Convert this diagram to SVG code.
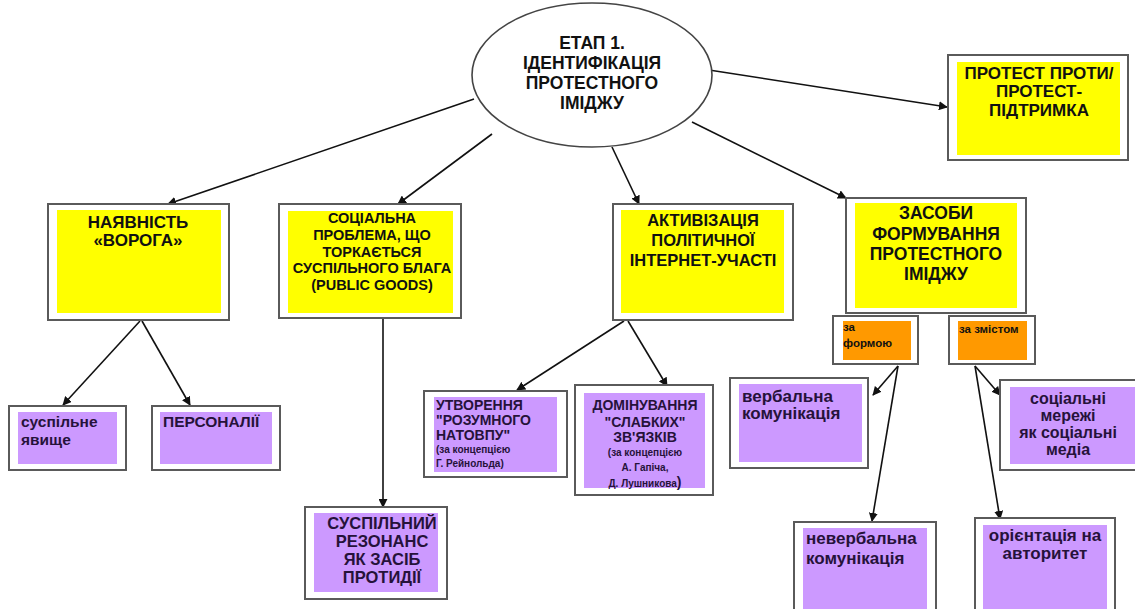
<svg xmlns="http://www.w3.org/2000/svg" width="1135" height="609" viewBox="0 0 1135 609">
<defs>
<marker id="ah" viewBox="0 0 10 10" refX="9" refY="5" markerWidth="9" markerHeight="9" orient="auto" markerUnits="userSpaceOnUse">
<path d="M0,0 L10,5 L0,10 z" fill="#111"/>
</marker>
</defs>
<style>
.frame{fill:#fff;stroke:#5a5a5a;stroke-width:2}
.yel{fill:#ffff00}
.pur{fill:#cc99ff}
.ora{fill:#ff9900}
.t{font-family:"Liberation Sans",Arial,sans-serif;font-weight:bold;fill:#111}
.tp{font-family:"Liberation Sans",Arial,sans-serif;font-weight:bold;fill:#26123a}
.c{text-anchor:middle}
.ln{stroke:#111;stroke-width:1.6;fill:none;marker-end:url(#ah)}
</style>
<rect width="1135" height="609" fill="#fff"/>
<g id="connectors">
<line class="ln" x1="709" y1="70" x2="947" y2="107"/>
<line class="ln" x1="474" y1="99" x2="168" y2="204"/>
<line class="ln" x1="492" y1="134" x2="398" y2="204"/>
<line class="ln" x1="612" y1="147" x2="639" y2="204"/>
<line class="ln" x1="692" y1="122" x2="846" y2="198"/>
<line class="ln" x1="140" y1="321" x2="63" y2="405"/>
<line class="ln" x1="142" y1="321" x2="190" y2="405"/>
<line class="ln" x1="383" y1="318" x2="383" y2="507"/>
<line class="ln" x1="624" y1="321" x2="517" y2="390"/>
<line class="ln" x1="628" y1="321" x2="667" y2="386"/>
<line class="ln" x1="898" y1="366" x2="873" y2="395"/>
<line class="ln" x1="898" y1="366" x2="872" y2="521"/>
<line class="ln" x1="975" y1="366" x2="1000" y2="395"/>
<line class="ln" x1="975" y1="366" x2="1000" y2="519"/>
</g>
<g id="stage1">
<ellipse cx="592" cy="75" rx="120" ry="72" fill="#fff" stroke="#444" stroke-width="1.6"/>
<text class="t c" font-size="17.5"><tspan x="592" y="49">ЕТАП 1.</tspan><tspan x="592" y="69">ІДЕНТИФІКАЦІЯ</tspan><tspan x="592" y="89">ПРОТЕСТНОГО</tspan><tspan x="592" y="109">ІМІДЖУ</tspan></text>
</g>
<g id="protest">
<rect class="frame" x="948" y="55" width="180" height="105"/>
<rect class="yel" x="957" y="62" width="163" height="93"/>
<text class="t c" font-size="17"><tspan x="1039" y="79">ПРОТЕСТ ПРОТИ/</tspan><tspan x="1039" y="97">ПРОТЕСТ-</tspan><tspan x="1039" y="116">ПІДТРИМКА</tspan></text>
</g>
<g id="enemy">
<rect class="frame" x="48" y="204" width="181" height="116"/>
<rect class="yel" x="57" y="210" width="164" height="103"/>
<text class="t c" font-size="17"><tspan x="138" y="228">НАЯВНІСТЬ</tspan><tspan x="138" y="246">«ВОРОГА»</tspan></text>
</g>
<g id="social-problem">
<rect class="frame" x="279" y="204" width="182" height="114"/>
<rect class="yel" x="288" y="211" width="165" height="102"/>
<text class="t c" font-size="14.5"><tspan x="372" y="223">СОЦІАЛЬНА</tspan><tspan x="372" y="240">ПРОБЛЕМА, ЩО</tspan><tspan x="372" y="257">ТОРКАЄТЬСЯ</tspan><tspan x="372" y="273">СУСПІЛЬНОГО БЛАГА</tspan><tspan x="372" y="290">(PUBLIC GOODS)</tspan></text>
</g>
<g id="activation">
<rect class="frame" x="613" y="204" width="180" height="116"/>
<rect class="yel" x="621" y="210" width="163" height="103"/>
<text class="t c" font-size="16.5"><tspan x="703" y="226">АКТИВІЗАЦІЯ</tspan><tspan x="703" y="246">ПОЛІТИЧНОЇ</tspan><tspan x="703" y="266">ІНТЕРНЕТ-УЧАСТІ</tspan></text>
</g>
<g id="means">
<rect class="frame" x="846" y="198" width="180" height="115"/>
<rect class="yel" x="855" y="203" width="162" height="105"/>
<text class="t c" font-size="17.5"><tspan x="936" y="219">ЗАСОБИ</tspan><tspan x="936" y="240">ФОРМУВАННЯ</tspan><tspan x="936" y="260">ПРОТЕСТНОГО</tspan><tspan x="936" y="280">ІМІДЖУ</tspan></text>
</g>
<g id="by-form">
<rect class="frame" x="833" y="316" width="85" height="48"/>
<rect class="ora" x="843" y="321" width="68" height="39"/>
<text class="t" font-size="11.5"><tspan x="843" y="331">за</tspan><tspan x="843" y="347">формою</tspan></text>
</g>
<g id="by-content">
<rect class="frame" x="949" y="316" width="86" height="48"/>
<rect class="ora" x="958" y="321" width="69" height="39"/>
<text class="t" font-size="11.5"><tspan x="959" y="333">за змістом</tspan></text>
</g>
<g id="phenomenon">
<rect class="frame" x="9" y="406" width="117" height="64"/>
<rect class="pur" x="18" y="412" width="99" height="52"/>
<text class="tp" font-size="15.5"><tspan x="21" y="427">суспільне</tspan><tspan x="21" y="445">явище</tspan></text>
</g>
<g id="persons">
<rect class="frame" x="152" y="406" width="128" height="64"/>
<rect class="pur" x="160" y="412" width="112" height="52"/>
<text class="tp" font-size="15.5"><tspan x="163" y="427">ПЕРСОНАЛІЇ</tspan></text>
</g>
<g id="resonance">
<rect class="frame" x="305" y="507" width="142" height="92"/>
<rect class="pur" x="314" y="513" width="124" height="79"/>
<text class="tp c" font-size="16.5"><tspan x="382" y="529">СУСПІЛЬНИЙ</tspan><tspan x="382" y="547">РЕЗОНАНС</tspan><tspan x="382" y="565">ЯК ЗАСІБ</tspan><tspan x="382" y="583">ПРОТИДІЇ</tspan></text>
</g>
<g id="smart-mob">
<rect class="frame" x="424" y="391" width="143" height="86"/>
<rect class="pur" x="434" y="397" width="123" height="75"/>
<text class="tp" font-size="14"><tspan x="436" y="410">УТВОРЕННЯ</tspan><tspan x="436" y="425">"РОЗУМНОГО</tspan><tspan x="436" y="440">НАТОВПУ"</tspan><tspan x="436" y="453" font-size="10">(за концепцією</tspan><tspan x="436" y="467" font-size="10">Г. Рейнольда)</tspan></text>
</g>
<g id="weak-ties">
<rect class="frame" x="575" y="385" width="138" height="110"/>
<rect class="pur" x="584" y="393" width="121" height="95"/>
<text class="tp c" font-size="14"><tspan x="645" y="410">ДОМІНУВАННЯ</tspan><tspan x="645" y="427">"СЛАБКИХ"</tspan><tspan x="645" y="442">ЗВ'ЯЗКІВ</tspan><tspan x="645" y="456" font-size="10">(за концепцією</tspan><tspan x="645" y="471" font-size="10">А. Гапіча,</tspan><tspan x="645" y="487" font-size="10">Д. Лушникова<tspan font-size="14">)</tspan></tspan></text>
</g>
<g id="verbal">
<rect class="frame" x="730" y="378" width="138" height="90"/>
<rect class="pur" x="739" y="384" width="123" height="78"/>
<text class="tp" font-size="17"><tspan x="742" y="402">вербальна</tspan><tspan x="742" y="419">комунікація</tspan></text>
</g>
<g id="social-networks">
<rect class="frame" x="1000" y="380" width="140" height="90"/>
<rect class="pur" x="1010" y="387" width="125" height="77"/>
<text class="tp c" font-size="16"><tspan x="1068" y="404">соціальні</tspan><tspan x="1068" y="421">мережі</tspan><tspan x="1068" y="438">як соціальні</tspan><tspan x="1068" y="455">медіа</tspan></text>
</g>
<g id="nonverbal">
<rect class="frame" x="794" y="522" width="142" height="95"/>
<rect class="pur" x="803" y="528" width="124" height="85"/>
<text class="tp" font-size="17"><tspan x="806" y="544">невербальна</tspan><tspan x="806" y="564">комунікація</tspan></text>
</g>
<g id="authority">
<rect class="frame" x="975" y="518" width="140" height="95"/>
<rect class="pur" x="983" y="525" width="124" height="88"/>
<text class="tp c" font-size="17"><tspan x="1045" y="541">орієнтація на</tspan><tspan x="1045" y="559">авторитет</tspan></text>
</g>
</svg>
